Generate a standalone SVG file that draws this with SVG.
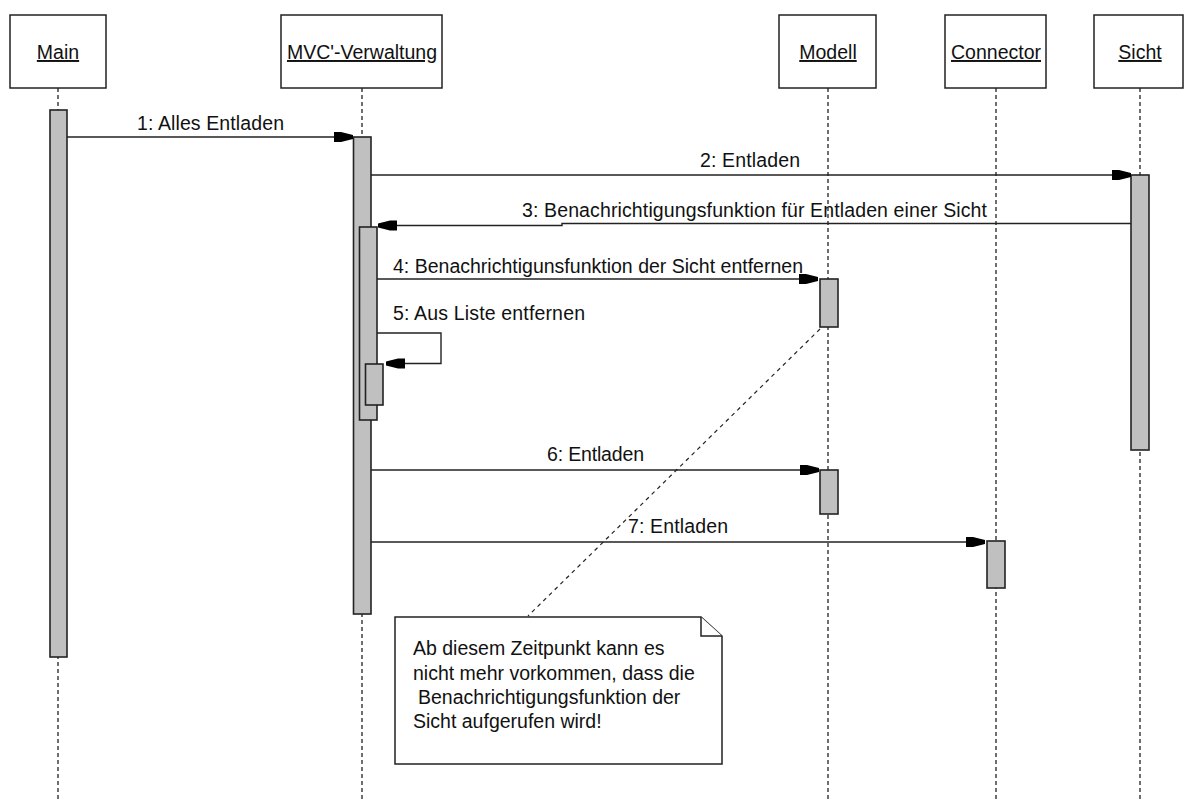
<svg xmlns="http://www.w3.org/2000/svg" width="1184" height="802" viewBox="0 0 1184 802">
  <style>
    text { font-family: "Liberation Sans", Arial, sans-serif; font-size: 19.5px; fill: #111; }
    .box { fill: #fff; stroke: #222; stroke-width: 1.5; }
    .name { text-anchor: middle; text-decoration: underline; }
    .life { stroke: #222; stroke-width: 1.3; stroke-dasharray: 4 3; fill: none; }
    .act { fill: #c0c0c0; stroke: #222; stroke-width: 1.6; }
    .msg { stroke: #222; stroke-width: 1.4; fill: none; marker-end: url(#head); }
    .anchor { stroke: #222; stroke-width: 1.2; stroke-dasharray: 4 4; fill: none; }
    .note { fill: #fff; stroke: #222; stroke-width: 1.5; }
  </style>
  <defs>
    <marker id="head" viewBox="-20 -6 20 12" refX="0" refY="0" markerWidth="20" markerHeight="12" markerUnits="userSpaceOnUse" orient="auto">
      <path d="M-19,-5 L-12,-5 L0,-2 L0,2 L-12,5 L-19,5 Z" fill="#000"/>
    </marker>
  </defs>
  <rect width="1184" height="802" fill="#fff"/>

  <!-- lifelines -->
  <g id="lifelines">
    <line class="life" x1="58" y1="88" x2="58" y2="802"/>
    <line class="life" x1="362" y1="88" x2="362" y2="802"/>
    <line class="life" x1="828" y1="88" x2="828" y2="802"/>
    <line class="life" x1="996" y1="88" x2="996" y2="802"/>
    <line class="life" x1="1140" y1="88" x2="1140" y2="802"/>
  </g>

  <!-- participants -->
  <g id="main">
    <rect class="box" x="10" y="15" width="96" height="73"/>
    <text class="name" x="58" y="59">Main</text>
    <rect class="act" x="50" y="110" width="17" height="547"/>
  </g>
  <g id="mvc">
    <rect class="box" x="281" y="15" width="161" height="73"/>
    <text class="name" x="362" y="59">MVC'-Verwaltung</text>
    <rect class="act" x="353.5" y="137" width="17.5" height="477"/>
    <rect class="act" x="359.5" y="227" width="17.5" height="193"/>
    <rect class="act" x="365.5" y="364" width="17.5" height="41"/>
  </g>
  <g id="modell">
    <rect class="box" x="779" y="15" width="97" height="73"/>
    <text class="name" x="828" y="59">Modell</text>
    <rect class="act" x="820" y="279" width="18" height="48"/>
    <rect class="act" x="820" y="470" width="18" height="44"/>
  </g>
  <g id="connector">
    <rect class="box" x="945" y="15" width="101" height="73"/>
    <text class="name" x="996" y="59">Connector</text>
    <rect class="act" x="987" y="541" width="18" height="47"/>
  </g>
  <g id="sicht">
    <rect class="box" x="1094" y="15" width="89" height="73"/>
    <text class="name" x="1140" y="59">Sicht</text>
    <rect class="act" x="1131" y="175" width="18" height="275"/>
  </g>

  <!-- messages -->
  <g id="connectors">
    <line class="msg" x1="67" y1="137" x2="353" y2="137"/>
    <polyline class="msg" points="371,175 1131,175"/>
    <polyline class="msg" points="1131,223.5 562,223.5 562,225.5 378,225.5"/>
    <line class="msg" x1="377" y1="279" x2="818" y2="279"/>
    <polyline class="msg" points="377,333 441,333 441,363.5 386,363.5"/>
    <line class="msg" x1="371" y1="470" x2="819" y2="470"/>
    <line class="msg" x1="371" y1="542" x2="985" y2="542"/>
    <line class="anchor" x1="820" y1="329" x2="528" y2="616"/>
  </g>

  <g id="labels">
    <text x="137" y="130" textLength="147">1: Alles Entladen</text>
    <text x="700" y="167" textLength="100">2: Entladen</text>
    <text x="522" y="217" textLength="465">3: Benachrichtigungsfunktion für Entladen einer Sicht</text>
    <text x="393" y="273" textLength="410">4: Benachrichtigunsfunktion der Sicht entfernen</text>
    <text x="393" y="320" textLength="192">5: Aus Liste entfernen</text>
    <text x="547" y="461" textLength="97">6: Entladen</text>
    <text x="628" y="533" textLength="100">7: Entladen</text>
  </g>

  <!-- comment note -->
  <g id="note">
    <path class="note" d="M395,617 H701 L722,636 V764 H395 Z"/>
    <path class="note" d="M701,617 V636 H722" fill="none"/>
    <text x="413" y="655">Ab diesem Zeitpunkt kann es</text>
    <text x="413" y="680">nicht mehr vorkommen, dass die</text>
    <text x="418" y="704">Benachrichtigungsfunktion der</text>
    <text x="413" y="728">Sicht aufgerufen wird!</text>
  </g>
</svg>
